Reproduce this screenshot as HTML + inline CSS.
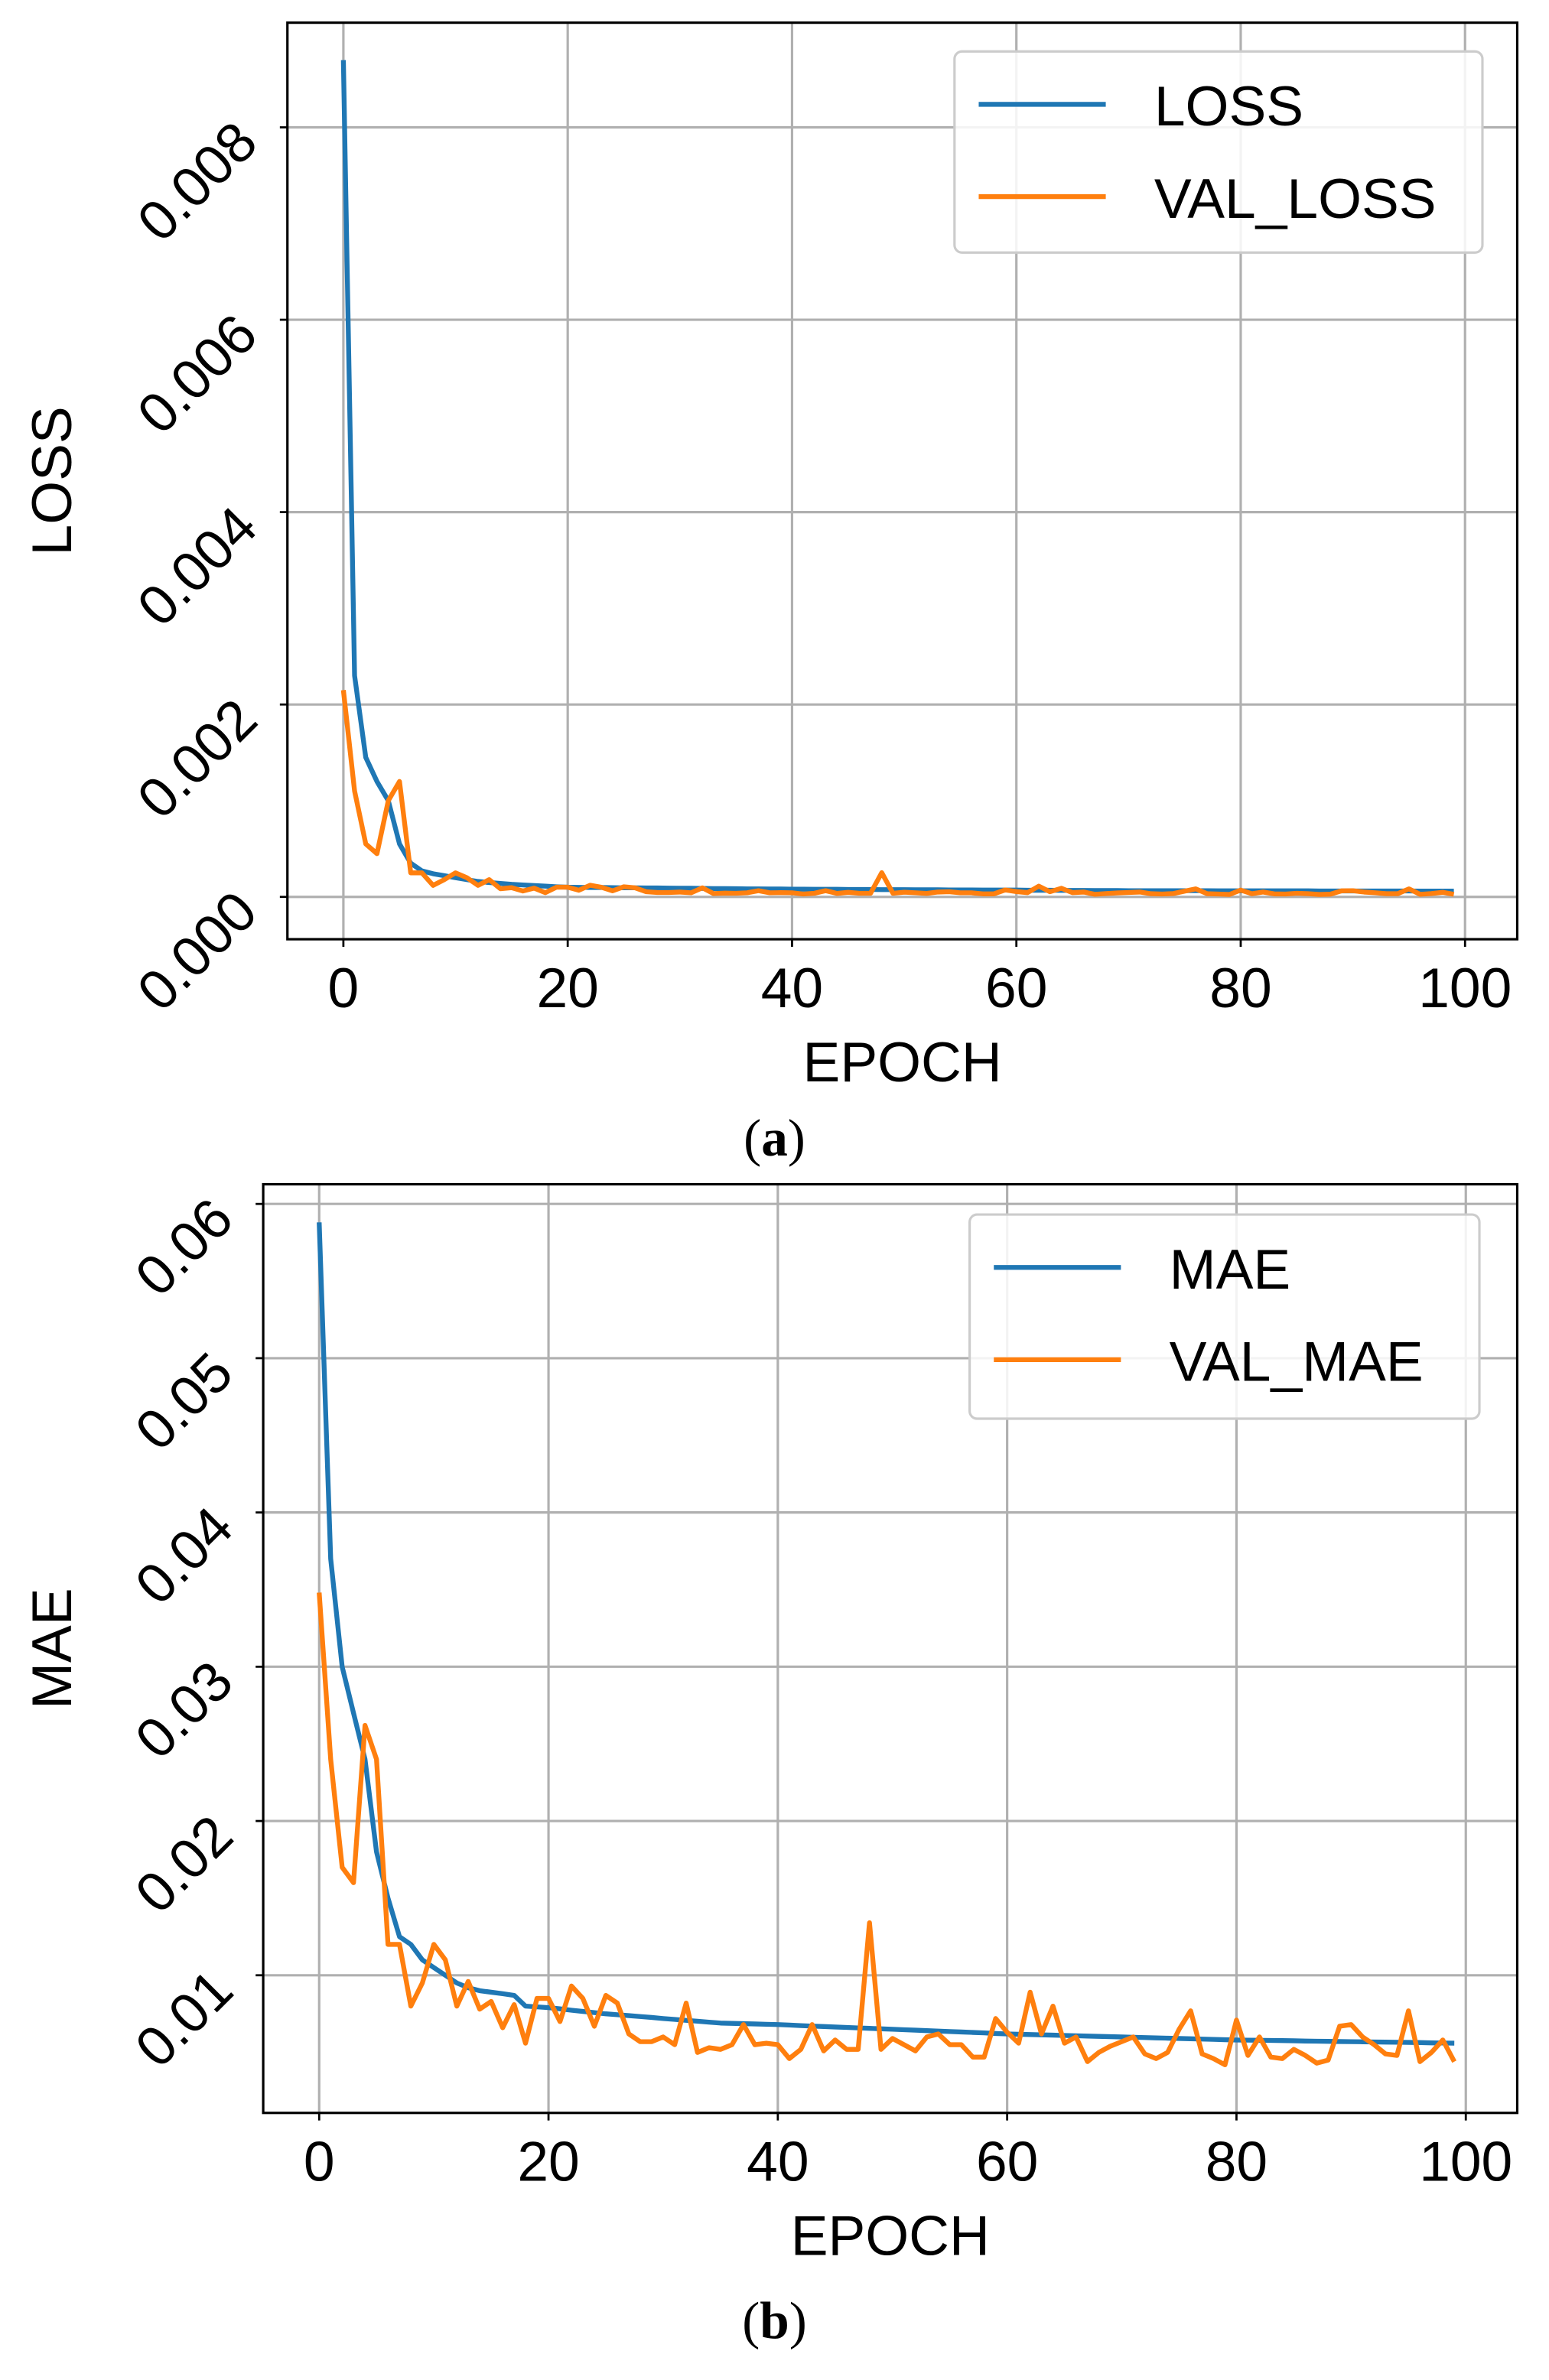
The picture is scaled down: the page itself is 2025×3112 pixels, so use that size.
<!DOCTYPE html>
<html><head><meta charset="utf-8"><style>
html,body{margin:0;padding:0;background:#fff;}
svg{display:block;}
text{font-family:"Liberation Sans","DejaVu Sans",sans-serif;fill:#000;}
.cap{font-family:"Liberation Serif",serif;}
</style></head><body>
<svg id="s" width="2025" height="3112" viewBox="0 0 1024 1573.6" preserveAspectRatio="none" xmlns="http://www.w3.org/2000/svg">
<g id="a"></g><g id="b"></g>
<text class="cap" x="512" y="764" font-size="35" text-anchor="middle">(<tspan font-weight="bold">a</tspan>)</text>
<text class="cap" x="512" y="1546" font-size="35" text-anchor="middle">(<tspan font-weight="bold">b</tspan>)</text>
</svg>
<script>
var NS="http://www.w3.org/2000/svg";
function el(p,t,a,txt){var e=document.createElementNS(NS,t);for(var k in a)e.setAttribute(k,a[k]);if(txt!==undefined)e.textContent=txt;p.appendChild(e);return e;}
var vm=[0.0348,0.024,0.017,0.016,0.0262,0.024,0.012,0.012,0.008,0.0095,0.012,0.011,0.008,0.0096,0.0078,0.0083,0.0066,0.0081,0.0056,0.0085,0.0085,0.007,0.0093,0.0085,0.0067,0.0087,0.0082,0.0062,0.0057,0.0057,0.006,0.0055,0.0082,0.005,0.0053,0.0052,0.0055,0.0068,0.0055,0.0056,0.0055,0.0046,0.0052,0.0068,0.0051,0.0058,0.0052,0.0052,0.0134,0.0052,0.0059,0.0055,0.0051,0.006,0.0062,0.0055,0.0055,0.0047,0.0047,0.0072,0.0063,0.0056,0.0089,0.0062,0.008,0.0056,0.006,0.0044,0.005,0.0054,0.0057,0.006,0.0049,0.0046,0.005,0.0065,0.0077,0.0049,0.0046,0.0042,0.0071,0.0048,0.006,0.0047,0.0046,0.0052,0.0048,0.0043,0.0045,0.0067,0.0068,0.006,0.0055,0.0049,0.0048,0.0077,0.0044,0.005,0.0058,0.0044];
var mk=[[0,0.0588],[1,0.037],[2,0.030],[3,0.027],[4,0.024],[5,0.018],[6,0.015],[7,0.0125],[8,0.012],[9,0.011],[10,0.0105],[11,0.010],[12,0.0095],[13,0.0092],[14,0.009],[16,0.0088],[17,0.0087],[18,0.008],[20,0.0079],[25,0.0075],[30,0.0072],[35,0.0069],[40,0.0068],[50,0.0065],[60,0.0062],[70,0.006],[80,0.0058],[90,0.0057],[99,0.0056]];
function interp(k){var m=[];for(var i=0;i<100;i++){for(var j=0;j<k.length-1;j++){if(i>=k[j][0]&&i<=k[j+1][0]){var t=(i-k[j][0])/(k[j+1][0]-k[j][0]);m.push(k[j][1]+t*(k[j+1][1]-k[j][1]));break;}}}return m;}
var mae=interp(mk);
var lk=[[0,8.7],[1,2.3],[2,1.45],[3,1.2],[4,1.0],[5,0.55],[6,0.35],[7,0.27],[8,0.24],[9,0.22],[10,0.2],[12,0.16],[15,0.13],[20,0.1],[40,0.08],[70,0.065],[99,0.06]];
var loss=interp(lk).map(function(v){return v*1e-3;});
var vlh=[2.15,1.1,0.55,0.45,1.0,1.2,0.25,0.25,0.12,0.18,0.25,0.2,0.12,0.18];
var vloss=[];for(var i=0;i<100;i++)vloss.push(i<14?vlh[i]*1e-3:1.4*vm[i]*vm[i]);
function plot(g,o){
 var L=o.l,R=o.r,T=o.t,B=o.b;
 var X=function(e){return o.x0+e*o.dx;},Y=function(v){return o.y0-v*o.dy;};
 el(g,"rect",{x:L,y:T,width:R-L,height:B-T,fill:"#fff"});
 [0,20,40,60,80,100].forEach(function(e){var x=X(e);el(g,"line",{x1:x,x2:x,y1:T,y2:B,stroke:"#b0b0b0","stroke-width":1.6});el(g,"line",{x1:x,x2:x,y1:B,y2:B+5,stroke:"#000","stroke-width":1.4});el(g,"text",{x:x,y:B+45,"font-size":37,"text-anchor":"middle"},String(e));});
 o.yt.forEach(function(v){var y=Y(v);el(g,"line",{x1:L,x2:R,y1:y,y2:y,stroke:"#b0b0b0","stroke-width":1.6});el(g,"line",{x1:L-5,x2:L,y1:y,y2:y,stroke:"#000","stroke-width":1.4});el(g,"text",{x:0,y:0,"font-size":37,"text-anchor":"end",transform:"translate("+(L-18)+","+(y+12)+") rotate(-45)"},o.fmt(v));});
 function line(d,c){var p=d.map(function(v,i){return X(i).toFixed(1)+","+Y(v).toFixed(1);}).join(" ");el(g,"polyline",{points:p,fill:"none",stroke:c,"stroke-width":3.2,"stroke-linejoin":"round"});}
 line(o.d1,"#1f77b4");line(o.d2,"#ff7f0e");
 el(g,"rect",{x:L,y:T,width:R-L,height:B-T,fill:"none",stroke:"#000","stroke-width":1.6});
 var lg=o.lg;
 el(g,"rect",{x:lg[0],y:lg[1],width:lg[2],height:lg[3],rx:5,fill:"#fff","fill-opacity":0.85,stroke:"#ccc","stroke-width":1.6});
 el(g,"line",{x1:lg[0]+16,x2:lg[0]+100,y1:lg[1]+35,y2:lg[1]+35,stroke:"#1f77b4","stroke-width":3.2});
 el(g,"line",{x1:lg[0]+16,x2:lg[0]+100,y1:lg[1]+96,y2:lg[1]+96,stroke:"#ff7f0e","stroke-width":3.2});
 el(g,"text",{x:lg[0]+132,y:lg[1]+49,"font-size":37},o.n1);
 el(g,"text",{x:lg[0]+132,y:lg[1]+110,"font-size":37},o.n2);
 el(g,"text",{x:(L+R)/2,y:B+94,"font-size":37,"text-anchor":"middle"},"EPOCH");
 el(g,"text",{x:0,y:0,"font-size":37,"text-anchor":"middle",transform:"translate("+o.ylx+","+((T+B)/2)+") rotate(-90)"},o.yl);
}
plot(document.getElementById("a"),{l:190,r:1003,t:15,b:621,x0:227,dx:7.415,y0:593,dy:63600,yt:[0,0.002,0.004,0.006,0.008],fmt:function(v){return v.toFixed(3);},d1:loss,d2:vloss,lg:[631,34,349,133],n1:"LOSS",n2:"VAL_LOSS",yl:"LOSS",ylx:47});
plot(document.getElementById("b"),{l:174,r:1003,t:783,b:1397,x0:211,dx:7.58,y0:1408,dy:10200,yt:[0.01,0.02,0.03,0.04,0.05,0.06],fmt:function(v){return v.toFixed(2);},d1:mae,d2:vm,lg:[641,803,337,135],n1:"MAE",n2:"VAL_MAE",yl:"MAE",ylx:47});
</script>
</body></html>
